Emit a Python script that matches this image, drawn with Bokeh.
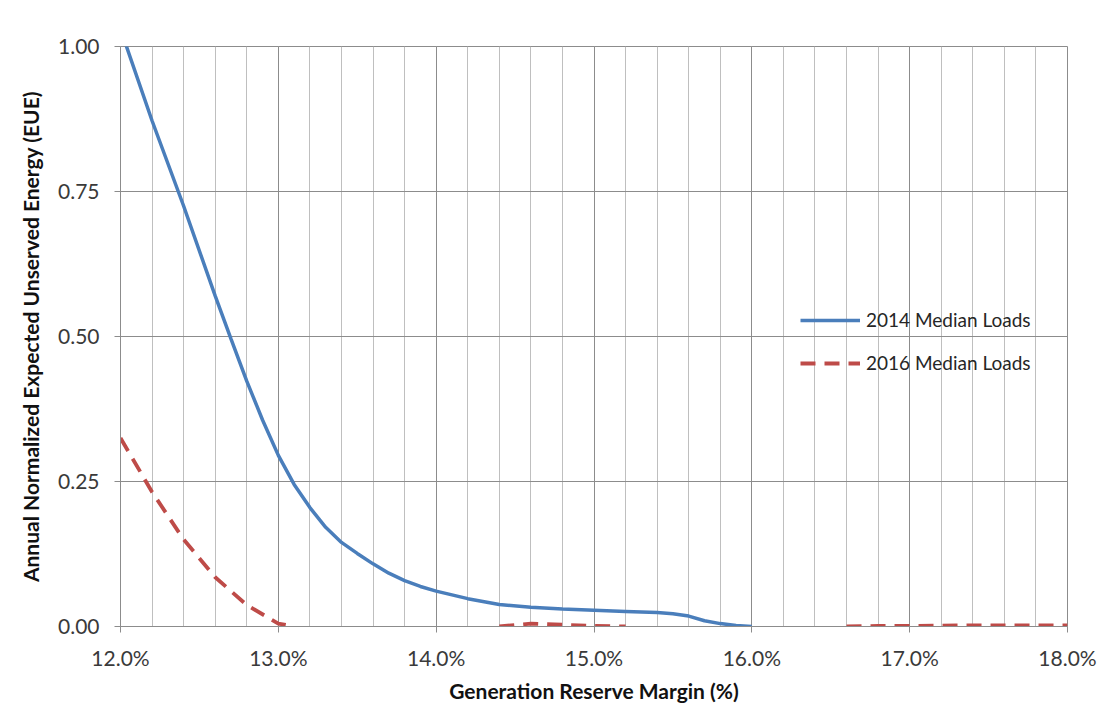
import numpy as np
from bokeh.plotting import figure
from bokeh.models import (ColumnDataSource, FixedTicker, PrintfTickFormatter,
                          NumeralTickFormatter, Range1d, Legend, LegendItem)
from bokeh.embed import file_html
from bokeh.resources import INLINE

# ---- data ----
margin_2014 = [12.0, 12.2, 12.4, 12.6, 12.7, 12.8, 12.9, 13.0, 13.1, 13.2, 13.3, 13.4, 13.5,
               13.6, 13.7, 13.8, 13.9, 14.0, 14.2, 14.4, 14.6, 14.8, 15.0, 15.2, 15.4,
               15.5, 15.6, 15.7, 15.8, 15.9, 16.0]
eue_2014 = [1.03, 0.872, 0.725, 0.57, 0.496, 0.423, 0.356, 0.295, 0.245, 0.205, 0.171, 0.145, 0.126,
            0.108, 0.092, 0.079, 0.069, 0.061, 0.048, 0.038, 0.033, 0.030, 0.028, 0.026, 0.024,
            0.022, 0.018, 0.010, 0.005, 0.0017, 0.0]

margin_2016 = [12.0, 12.2, 12.4, 12.6, 12.8, 13.0, 13.1, 13.2,
               14.4, 14.6, 14.8, 15.0, 15.2, 15.4,
               16.6, 16.8, 17.0, 17.2, 17.4, 17.6, 17.8, 18.0]
eue_2016 = [0.325, 0.232, 0.150, 0.085, 0.037, 0.005, 0.0, None,
            0.0, 0.005, 0.003, 0.001, 0.0, None,
            0.0, 0.001, 0.001, 0.0015, 0.002, 0.002, 0.002, 0.002]

x_ticks = [12.0, 13.0, 14.0, 15.0, 16.0, 17.0, 18.0]
y_ticks = [0.0, 0.25, 0.50, 0.75, 1.00]

series_names = ["2014 Median Loads", "2016 Median Loads"]
x_title = "Generation Reserve Margin (%)"
y_title = "Annual Normalized Expected Unserved Energy (EUE)"

BLUE = "#4A7EBB"
RED = "#BE4B48"
FONT = "Lato"

p = figure(frame_width=947, frame_height=580,
           min_border_left=120, min_border_right=39, min_border_top=46, min_border_bottom=85,
           x_range=Range1d(12.0, 18.0), y_range=Range1d(0.0, 1.0),
           output_backend="svg", toolbar_location=None,
           background_fill_color="white", border_fill_color="white")

p.outline_line_color = "#8C8C8C"
p.outline_line_width = 1

# grids
p.xgrid.grid_line_color = "#8C8C8C"
p.xgrid.minor_grid_line_color = "#BFBFBF"
p.ygrid.grid_line_color = "#8C8C8C"

# axes
p.xaxis.ticker = FixedTicker(ticks=x_ticks,
                             minor_ticks=[round(12.0 + 0.2 * i, 1) for i in range(31)])
p.xaxis.formatter = PrintfTickFormatter(format="%.1f%%")
p.yaxis.ticker = FixedTicker(ticks=y_ticks)
p.yaxis.formatter = NumeralTickFormatter(format="0.00")

for ax in (p.xaxis[0], p.yaxis[0]):
    ax.axis_line_color = "#8C8C8C"
    ax.major_tick_line_color = "#8C8C8C"
    ax.major_tick_in = 0
    ax.major_tick_out = 6
    ax.minor_tick_in = 0
    ax.minor_tick_out = 0
    ax.major_label_text_font = FONT
    ax.major_label_text_font_size = "21px"
    ax.major_label_text_color = "#3A3A3A"
    ax.axis_label_text_font = FONT
    ax.axis_label_text_font_size = "21px"
    ax.axis_label_text_font_style = "bold"
    ax.axis_label_text_color = "#111111"

p.xaxis.axis_label = x_title
p.yaxis.axis_label = y_title
p.xaxis.major_label_standoff = 12
p.xaxis.axis_label_standoff = 5
p.yaxis.major_label_standoff = 15
p.yaxis.axis_label_standoff = 12

src14 = ColumnDataSource(dict(x=margin_2014, y=eue_2014))
src16 = ColumnDataSource(dict(x=margin_2016, y=np.array(eue_2016, dtype=float)))

r14 = p.line("x", "y", source=src14, line_color=BLUE, line_width=3.5)
r16 = p.line("x", "y", source=src16, line_color=RED, line_width=3.8, line_dash="15 9")

legend = Legend(items=[LegendItem(label=series_names[0], renderers=[r14]),
                       LegendItem(label=series_names[1], renderers=[r16])],
                location=(680, 252))
legend.background_fill_alpha = 0
legend.border_line_color = None
legend.padding = 0
legend.margin = 0
legend.glyph_width = 60
legend.glyph_height = 20
legend.label_standoff = 6
legend.spacing = 20
legend.label_text_font = FONT
legend.label_text_font_size = "19px"
legend.label_text_color = "#262626"
p.add_layout(legend, "center")

open("out.html", "w").write(file_html(p, INLINE))
